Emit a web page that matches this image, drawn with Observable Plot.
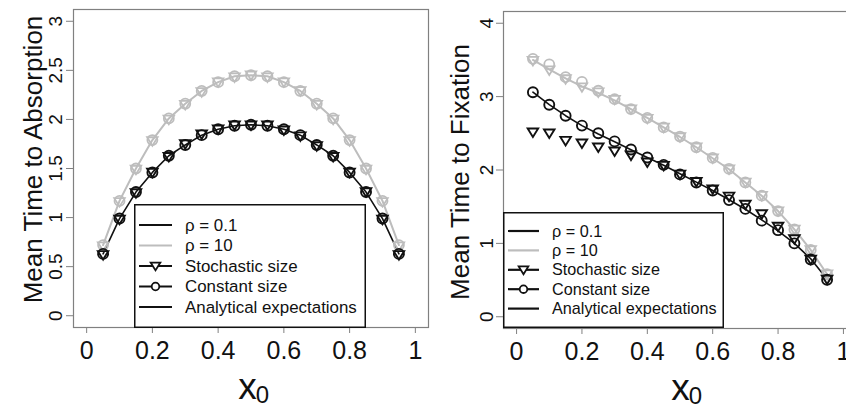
<!DOCTYPE html>
<html>
<head>
<meta charset="utf-8">
<script src="https://cdn.jsdelivr.net/npm/d3@7"></script>
<script src="https://cdn.jsdelivr.net/npm/@observablehq/plot@0.6"></script>
<style>
  html, body { margin: 0; padding: 0; background: white; overflow: hidden; }
  #wrap { position: relative; width: 846px; height: 408px; overflow: hidden; background: white; font-family: "Liberation Sans", Arial, sans-serif; }
  .panel { position: absolute; top: 0; }
  .legend { position: absolute; }
</style>
</head>
<body>
<div id="wrap"></div>
<script>
// ---------- data ----------
const x0 = [0.05, 0.10, 0.15, 0.20, 0.25, 0.30, 0.35, 0.40, 0.45, 0.50, 0.55, 0.60, 0.65, 0.70, 0.75, 0.80, 0.85, 0.90, 0.95];

// Left panel: mean time to absorption
const absorbConst01 = [0.63, 0.99, 1.26, 1.46, 1.63, 1.74, 1.84, 1.90, 1.935, 1.945, 1.935, 1.90, 1.84, 1.74, 1.63, 1.46, 1.26, 0.99, 0.63];
const absorbStoch01 = [0.62, 0.98, 1.25, 1.46, 1.62, 1.75, 1.85, 1.90, 1.94, 1.94, 1.94, 1.89, 1.83, 1.73, 1.62, 1.46, 1.26, 0.98, 0.62];
const absorbConst10 = [0.72, 1.17, 1.50, 1.79, 2.01, 2.16, 2.29, 2.38, 2.44, 2.45, 2.44, 2.38, 2.29, 2.16, 2.01, 1.79, 1.50, 1.17, 0.72];
const absorbStoch10 = [0.71, 1.16, 1.49, 1.78, 2.00, 2.15, 2.28, 2.38, 2.43, 2.45, 2.43, 2.38, 2.29, 2.15, 2.00, 1.78, 1.49, 1.16, 0.71];
const absorbAnalytic01 = [0.63, 0.99, 1.26, 1.46, 1.63, 1.74, 1.84, 1.90, 1.935, 1.945, 1.935, 1.90, 1.84, 1.74, 1.63, 1.46, 1.26, 0.99, 0.63];
const absorbAnalytic10 = [0.72, 1.17, 1.50, 1.79, 2.01, 2.16, 2.29, 2.38, 2.44, 2.45, 2.44, 2.38, 2.29, 2.16, 2.01, 1.79, 1.50, 1.17, 0.72];

// Right panel: mean time to fixation
const fixConst01 = [3.06, 2.89, 2.74, 2.605, 2.50, 2.39, 2.28, 2.17, 2.07, 1.94, 1.83, 1.72, 1.59, 1.47, 1.31, 1.18, 1.00, 0.78, 0.505];
const fixStoch01 = [2.515, 2.50, 2.40, 2.365, 2.31, 2.255, 2.20, 2.105, 2.06, 1.94, 1.84, 1.74, 1.64, 1.53, 1.40, 1.23, 1.06, 0.78, 0.51];
const fixConst10 = [3.515, 3.44, 3.265, 3.20, 3.08, 2.965, 2.83, 2.71, 2.58, 2.456, 2.31, 2.165, 2.015, 1.83, 1.65, 1.44, 1.19, 0.91, 0.58];
const fixStoch10 = [3.49, 3.36, 3.24, 3.13, 3.06, 2.96, 2.83, 2.70, 2.58, 2.45, 2.31, 2.16, 2.01, 1.83, 1.65, 1.44, 1.19, 0.91, 0.58];
const fixAnalytic01 = [3.06, 2.89, 2.74, 2.605, 2.49, 2.385, 2.275, 2.17, 2.065, 1.95, 1.835, 1.72, 1.595, 1.465, 1.32, 1.17, 1.00, 0.79, 0.51];
const fixAnalytic10 = [3.50, 3.37, 3.25, 3.14, 3.05, 2.95, 2.83, 2.71, 2.58, 2.45, 2.31, 2.16, 2.01, 1.83, 1.65, 1.44, 1.19, 0.91, 0.58];

const xTicks = [0, 0.2, 0.4, 0.6, 0.8, 1];
const yTicksAbsorb = [0, 0.5, 1, 1.5, 2, 2.5, 3];
const yTicksFix = [0, 1, 2, 3, 4];

const yTitleAbsorb = "Mean Time to Absorption";
const yTitleFix = "Mean Time to Fixation";
const xTitleMain = "x";
const xTitleSub = "0";

const legendLabels = ["ρ = 0.1", "ρ = 10", "Stochastic size", "Constant size", "Analytical expectations"];
const legendColors = ["black", "gray", "black", "black", "black"];
const legendSymbols = [null, null, "triangle", "circle", null];

// ---------- style ----------
const BLACK = "#111";
const GRAY = "#bdbdbd";
const FRAME = "#808080";
const FONT = "'Liberation Sans', Arial, Helvetica, sans-serif";

const triDown = {
  draw(ctx, size) {
    const r = Math.sqrt(size / Math.PI);
    ctx.moveTo(0, 0.95 * r);
    ctx.lineTo(-1.05 * r, -0.75 * r);
    ctx.lineTo(1.05 * r, -0.75 * r);
    ctx.closePath();
  }
};

function rows(ys) { return x0.map((x, i) => ({x, y: ys[i]})); }

function panel(cfg) {
  return Plot.plot({
    width: cfg.width,
    height: 408,
    marginLeft: cfg.ml,
    marginRight: cfg.mr,
    marginTop: cfg.mt,
    marginBottom: cfg.mb,
    x: {domain: [-0.04, 1.04]},
    y: {domain: cfg.yDomain},
    style: {fontFamily: FONT, background: "white", maxWidth: "none", overflow: "visible"},
    marks: [
      Plot.frame({stroke: FRAME, strokeWidth: 1.2}),
      Plot.axisX({ticks: xTicks, tickFormat: d => String(d), tickSize: 6, tickPadding: 8, fontSize: 25, stroke: FRAME, fill: BLACK, label: null}),
      Plot.axisY({ticks: cfg.yTicks, tickFormat: d => String(d), tickSize: 7, tickPadding: cfg.yPad, tickRotate: -90, fontSize: 19, stroke: FRAME, fill: BLACK, label: null}),
      Plot.line(rows(cfg.a10), {x: "x", y: "y", stroke: GRAY, strokeWidth: 2}),
      Plot.line(rows(cfg.a01), {x: "x", y: "y", stroke: BLACK, strokeWidth: 1.6}),
      Plot.dot(rows(cfg.c10), {x: "x", y: "y", r: 5, symbol: "circle", fill: "none", stroke: GRAY, strokeWidth: 1.8}),
      Plot.dot(rows(cfg.s10), {x: "x", y: "y", r: 5, symbol: triDown, fill: "none", stroke: GRAY, strokeWidth: 1.8}),
      Plot.dot(rows(cfg.c01), {x: "x", y: "y", r: 5, symbol: "circle", fill: "none", stroke: BLACK, strokeWidth: 1.9}),
      Plot.dot(rows(cfg.s01), {x: "x", y: "y", r: 5, symbol: triDown, fill: "none", stroke: BLACK, strokeWidth: 1.9}),
      Plot.text([cfg.yTitle], {text: d => d, frameAnchor: "left", textAnchor: "middle", lineAnchor: "middle", rotate: -90, dx: cfg.titleDx, dy: cfg.titleDy, fontSize: 26, fill: BLACK}),
      Plot.text([xTitleMain], {text: d => d, frameAnchor: "bottom", textAnchor: "middle", lineAnchor: "bottom", dx: cfg.xdx, dy: 71, fontSize: 37, fill: BLACK}),
      Plot.text([xTitleSub], {text: d => d, frameAnchor: "bottom", textAnchor: "middle", lineAnchor: "bottom", dx: cfg.xdx + 15, dy: 75, fontSize: 24, fill: BLACK})
    ]
  });
}

const wrap = document.getElementById("wrap");

const left = panel({
  width: 440, ml: 73, mr: 12, mt: 9, mb: 81,
  yDomain: [-0.12, 3.12], yTicks: yTicksAbsorb, yPad: 5,
  a10: absorbAnalytic10, a01: absorbAnalytic01,
  c10: absorbConst10, s10: absorbStoch10, c01: absorbConst01, s01: absorbStoch01,
  yTitle: yTitleAbsorb, titleDx: -40, titleDy: -9, xdx: -3.5
});
const leftDiv = document.createElement("div");
leftDiv.className = "panel"; leftDiv.style.left = "0px"; leftDiv.style.width = "440px";
leftDiv.appendChild(left);
wrap.appendChild(leftDiv);

const right = panel({
  width: 420, ml: 63, mr: 4, mt: 11, mb: 80,
  yDomain: [-0.16, 4.16], yTicks: yTicksFix, yPad: 4,
  a10: fixAnalytic10, a01: fixAnalytic01,
  c10: fixConst10, s10: fixStoch10, c01: fixConst01, s01: fixStoch01,
  yTitle: yTitleFix, titleDx: -43, titleDy: 2, xdx: 0.5
});
const rightDiv = document.createElement("div");
rightDiv.className = "panel"; rightDiv.style.left = "440px"; rightDiv.style.width = "420px";
rightDiv.appendChild(right);
wrap.appendChild(rightDiv);

// ---------- legends ----------
function legend(cfg) {
  const svg = d3.select(wrap).append("svg")
    .attr("class", "legend")
    .style("left", cfg.left + "px").style("top", cfg.top + "px")
    .attr("width", cfg.w).attr("height", cfg.h);
  svg.append("rect").attr("x", 0.75).attr("y", 0.75).attr("width", cfg.w - 1.5).attr("height", cfg.h - 1.5)
    .attr("fill", "white").attr("stroke", BLACK).attr("stroke-width", 1.5);
  legendLabels.forEach((lab, i) => {
    const cy = cfg.first + i * cfg.step;
    const col = legendColors[i] === "gray" ? GRAY : BLACK;
    const g = svg.append("g");
    g.append("line").attr("x1", cfg.sx).attr("x2", cfg.sx + cfg.sw).attr("y1", cy).attr("y2", cy)
      .attr("stroke", col).attr("stroke-width", 2.2);
    const mx = cfg.sx + cfg.sw / 2;
    if (legendSymbols[i] === "triangle") {
      const r = 4.6;
      g.append("path").attr("d", `M${mx},${cy + 0.95 * r}L${mx - 1.05 * r},${cy - 0.75 * r}L${mx + 1.05 * r},${cy - 0.75 * r}Z`)
        .attr("fill", "white").attr("stroke", col).attr("stroke-width", 1.8);
    } else if (legendSymbols[i] === "circle") {
      g.append("circle").attr("cx", mx).attr("cy", cy).attr("r", 3.8)
        .attr("fill", "white").attr("stroke", col).attr("stroke-width", 1.8);
    }
    g.append("text").attr("x", cfg.tx).attr("y", cy).attr("dy", "0.35em")
      .attr("font-family", FONT).attr("font-size", cfg.fs).attr("fill", BLACK).text(lab);
  });
}

legend({left: 134, top: 204, w: 232, h: 124, first: 21, step: 20.5, sx: 5, sw: 33, tx: 51, fs: 16.9});
legend({left: 503, top: 212, w: 221, h: 116, first: 19, step: 19.4, sx: 5, sw: 31, tx: 49, fs: 16.2});
</script>
</body>
</html>
